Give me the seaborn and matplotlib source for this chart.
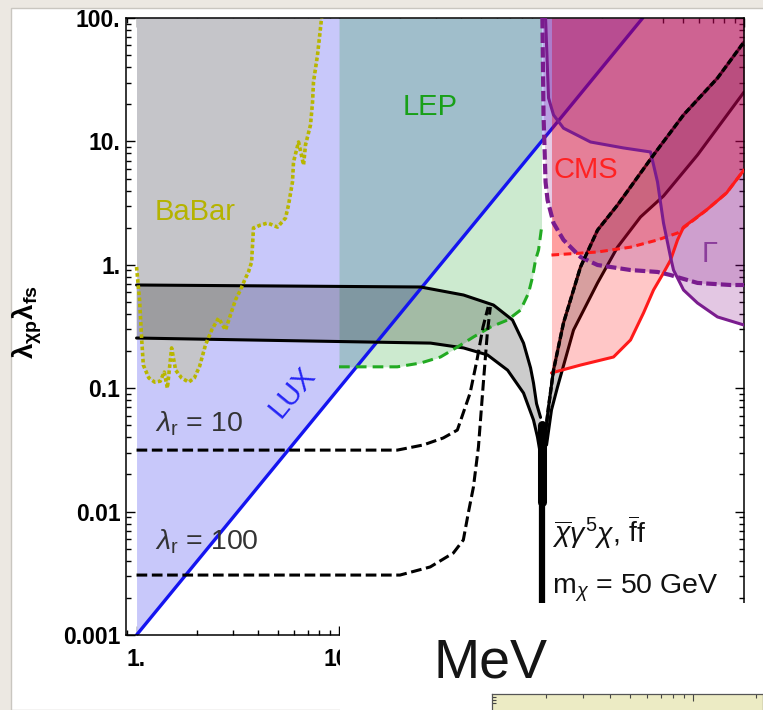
import numpy as np
import matplotlib
matplotlib.use("Agg")
import matplotlib.pyplot as plt
from matplotlib.patches import Rectangle
from matplotlib.ticker import LogLocator, NullFormatter
import seaborn as sns

# === ESTILO ===
sns.set_theme(style="ticks")
plt.rcParams['font.family'] = ['Liberation Sans', 'DejaVu Sans']
plt.rcParams['mathtext.fontset'] = 'custom'
plt.rcParams['mathtext.rm'] = 'Liberation Sans'
plt.rcParams['mathtext.it'] = 'Liberation Sans:italic'
plt.rcParams['mathtext.bf'] = 'Liberation Sans:bold'

# === DATOS (m_r en GeV, lambda_chi_p * lambda_fs) ===
lux_x = [1, 100, 316]
lux_y = [0.001, 10, 100]

babar_x = [1.0, 1.035, 1.06, 1.08, 1.15, 1.23, 1.31, 1.37, 1.42, 1.49, 1.56, 1.67,
           1.81, 1.93, 2.05, 2.19, 2.35, 2.54, 2.75, 2.91, 3.08, 3.26, 3.42, 3.57,
           3.70, 3.74, 3.78, 4.10, 4.44, 4.97, 5.44, 5.63, 5.89, 5.96, 6.31, 6.68,
           6.83, 7.23, 7.40, 7.48, 7.83, 8.10, 8.20]
babar_y = [0.96, 0.52, 0.25, 0.154, 0.121, 0.112, 0.114, 0.135, 0.100, 0.212, 0.140,
           0.121, 0.112, 0.121, 0.151, 0.224, 0.296, 0.370, 0.296, 0.392, 0.519, 0.625,
           0.753, 0.875, 1.05, 1.45, 1.99, 2.10, 2.18, 2.02, 2.39, 3.05, 4.69, 6.81,
           9.89, 6.44, 9.35, 13.6, 20.8, 30.3, 50.1, 83.0, 100]

lep_x = [10, 19.4, 25.3, 31.7, 38.5, 46.1, 56.0, 68.0, 78.8, 86.3, 90.3, 93.4, 96.7, 100]
lep_y = [0.149, 0.149, 0.160, 0.179, 0.216, 0.260, 0.313, 0.357, 0.430, 0.591, 0.796,
         1.09, 1.32, 1.99]

hi_left_x = [1, 25.3, 41.2, 57.9, 71.9, 81.5, 88.3, 91.3, 94.5, 98.9]
hi_left_y = [0.686, 0.661, 0.569, 0.472, 0.357, 0.232, 0.146, 0.110, 0.075, 0.058]
lo_left_x = [1, 28.3, 41.2, 54.1, 68.0, 81.5, 91.3, 95.5, 98.9]
lo_left_y = [0.255, 0.232, 0.212, 0.186, 0.140, 0.0914, 0.0552, 0.0402, 0.0288]
hi_right_x = [103.5, 108.3, 114.6, 128.4, 155.8, 189.1, 237.3, 357.4, 502.8, 739.8, 1000]
hi_right_y = [0.038, 0.0704, 0.140, 0.338, 0.96, 1.91, 3.05, 7.76, 16.4, 32.6, 63.9]
lo_right_x = [105.9, 112.0, 119.9, 143.9, 189.1, 237.3, 308.2, 400.4, 589.3, 1000]
lo_right_y = [0.0347, 0.0666, 0.102, 0.296, 0.713, 1.39, 2.44, 3.61, 7.76, 25.1]

spike_x = [100, 100]
spike_y = [0.001, 0.045]
spike_head_y = [0.012, 0.05]

lam10_x = [1, 19.4, 26.1, 32.7, 38.4, 44.4, 48.0, 51.4, 54.5]
lam10_y = [0.0315, 0.0315, 0.0347, 0.0395, 0.0458, 0.0914, 0.169, 0.313, 0.455]
lam100_x = [1, 20.0, 28.2, 36.7, 41.1, 43.5, 46.1, 48.8, 51.6, 54.0, 55.9]
lam100_y = [0.00306, 0.00306, 0.00356, 0.00462, 0.00589, 0.00975, 0.0158, 0.0333,
            0.110, 0.280, 0.455]

cms_x = [112.0, 155.8, 226.8, 275.2, 318.9, 357.4, 400.4, 433.6, 469.6, 502.8, 652.9,
         819.5, 1000]
cms_y = [0.133, 0.154, 0.179, 0.246, 0.407, 0.625, 0.859, 1.09, 1.59, 2.02, 2.78, 3.82, 5.87]
cms_exp_x = [112.0, 189.1, 275.2, 374.0, 469.6, 502.8, 652.9, 819.5, 1000]
cms_exp_y = [1.20, 1.27, 1.39, 1.59, 1.81, 1.99, 2.78, 3.82, 5.87]

gam_s_x = [104.7, 108.3, 114.6, 128.4, 174.6, 254.1, 345.4, 374.0, 400.4, 433.6, 448.6,
           502.8, 589.3, 739.8, 1000]
gam_s_y = [100, 22.5, 16.4, 12.8, 9.89, 8.85, 8.21, 4.69, 2.18, 1.156, 0.907, 0.625,
           0.490, 0.378, 0.325]
gam_d_x = [101, 102.3, 104.7, 107.1, 114.6, 128.4, 155.8, 189.1, 275.2, 374.0, 433.6,
           485.9, 589.3, 857.8, 1000]
gam_d_y = [100, 16.4, 4.69, 3.35, 2.18, 1.59, 1.156, 0.996, 0.907, 0.875, 0.826, 0.781,
           0.713, 0.686, 0.686]

# solo se ven "1." y "10." (el resto queda tapado por el recuadro blanco)
xtick_vals = [1, 10, 100, 1000]
xtick_labels = ['1.', '10.', '', '']
ytick_vals = [0.001, 0.01, 0.1, 1, 10, 100]
ytick_labels = ['0.001', '0.01', '0.1', '1.', '10.', '100.']

# === FIGURA ===
fig = plt.figure(figsize=(7.63, 7.10), dpi=100, facecolor='#ece8e2')
fig.add_artist(Rectangle((11 / 763, 0), 1.0, 702 / 710, transform=fig.transFigure,
                         facecolor='white', edgecolor='#c9c6c0', lw=1, zorder=-5))

ax = fig.add_axes([126 / 763, 75 / 710, 618 / 763, 617 / 710])
ax.set_facecolor('none')
ax.set_xscale('log')
ax.set_yscale('log')


def line(x, y, **kw):
    sns.lineplot(x=x, y=y, ax=ax, sort=False, estimator=None, **kw)


# capas de fondo
ax.fill_between(lux_x, lux_y, 100, color='#c8c8fa', lw=0, zorder=1)
ax.fill_between(babar_x, babar_y, 100, color='#c5c5c9', lw=0, zorder=1.1)
ax.fill_between(lep_x, lep_y, 100, color=(0, 0.6, 0.06), alpha=0.2, lw=0, zorder=1.2)
ax.fill(hi_left_x + lo_left_x[::-1], hi_left_y + lo_left_y[::-1],
        color='black', alpha=0.2, lw=0, zorder=1.3)
ax.fill(hi_right_x + lo_right_x[::-1], hi_right_y + lo_right_y[::-1],
        color='black', alpha=0.2, lw=0, zorder=1.3)

line(lux_x, lux_y, color='#1414f0', lw=2.4, zorder=1.5)
for xs, ys in [(hi_left_x, hi_left_y), (lo_left_x, lo_left_y),
               (hi_right_x, hi_right_y), (lo_right_x, lo_right_y)]:
    line(xs, ys, color='black', lw=2.2, zorder=1.5)

# capas CMS y anchura (transparentes)
ax.fill_between(cms_x, cms_y, 100, color='red', alpha=0.22, lw=0, zorder=2)
ax.fill_between(cms_exp_x, cms_exp_y, 100, color='red', alpha=0.2, lw=0, zorder=2)
ax.fill_between(gam_d_x, gam_d_y, 100, color=(0.5, 0, 0.5), alpha=0.2, lw=0, zorder=2)
ax.fill_between(gam_s_x, gam_s_y, 100, color=(0.5, 0, 0.5), alpha=0.22, lw=0, zorder=2)

# curvas de contorno
line(babar_x, babar_y, color='#b8b600', lw=2.6, linestyle=(0, (1, 0.7)), zorder=3)
line(lep_x, lep_y, color='#22aa22', lw=2.2, linestyle=(0, (3.5, 2)), zorder=3)
line(cms_x, cms_y, color='#ff1a1a', lw=2.2, zorder=3)
line(cms_exp_x, cms_exp_y, color='#ff1a1a', lw=2.2, linestyle=(0, (2.5, 1.5)), zorder=3)
line(gam_s_x, gam_s_y, color='#7a1c8e', lw=2.2, zorder=3)
line(gam_d_x, gam_d_y, color='#7a1c8e', lw=3, linestyle=(0, (2.5, 1)), zorder=3)
line(lam10_x, lam10_y, color='black', lw=2.2, linestyle=(0, (3.5, 1.5)), zorder=3)
line(lam100_x, lam100_y, color='black', lw=2.2, linestyle=(0, (3.5, 1.5)), zorder=3)
line(hi_right_x, hi_right_y, color='black', lw=2.4, linestyle=(0, (2, 0.8)), zorder=3)
line(spike_x, spike_y, color='black', lw=4.5, zorder=3)
line(spike_x, spike_head_y, color='black', lw=6.5, zorder=3)

# textos
ax.text(1.234, 2.31, 'BaBar', color='#b5b300', fontsize=21, zorder=4)
ax.text(20.5, 16.4, 'LEP', color='#18a018', fontsize=21, zorder=4)
ax.text(114, 5.05, 'CMS', color='#ff2222', fontsize=21, zorder=4)
ax.text(620, 1.05, 'Γ', color='#8b3d9b', fontsize=21, zorder=4)
ax.text(5.86, 0.093, 'LUX', color='#2525f5', fontsize=21, rotation=50.6,
        rotation_mode='anchor', ha='center', va='center', zorder=4)
ax.text(1.234, 0.0442, r'$\lambda_{\rm r}$ = 10', color='#333333', fontsize=20.5, zorder=4)
ax.text(1.234, 0.00489, r'$\lambda_{\rm r}$ = 100', color='#333333', fontsize=20.5, zorder=4)
ax.text(112.7, 0.00557, r'$\overline{\chi}\gamma^5\chi$, $\overline{\rm f}$f',
        color='#111111', fontsize=20.5, zorder=4)
ax.text(112.7, 0.00215, r'm$_\chi$ = 50 GeV', color='#111111', fontsize=20.5, zorder=4)

# ejes
ax.set_xlim(0.887, 1000)
ax.set_ylim(0.001, 100)
ax.set_xticks(xtick_vals)
ax.set_xticklabels(xtick_labels)
ax.set_yticks(ytick_vals)
ax.set_yticklabels(ytick_labels)
ax.xaxis.set_minor_locator(LogLocator(base=10, subs=np.arange(2, 10), numticks=20))
ax.yaxis.set_minor_locator(LogLocator(base=10, subs=np.arange(2, 10), numticks=20))
ax.xaxis.set_minor_formatter(NullFormatter())
ax.yaxis.set_minor_formatter(NullFormatter())
ax.tick_params(which='both', direction='in', top=True, right=True, bottom=True,
               left=True, colors='black', width=1)
ax.tick_params(which='major', length=6.5)
ax.tick_params(which='minor', length=3.5)
ax.tick_params(axis='y', which='major', pad=4, labelsize=16.5)
ax.tick_params(axis='x', which='major', pad=9, labelsize=16.5)
for lab in ax.get_xticklabels() + ax.get_yticklabels():
    lab.set_fontweight('bold')
for sp in ax.spines.values():
    sp.set_color('black')
    sp.set_linewidth(1.1)
ax.set_xlabel('')
ax.set_ylabel('')

fig.text(27 / 763, 1 - 322 / 710, r'$\mathbf{\lambda_{\chi p}\lambda_{fs}}$', rotation=90,
         ha='center', va='center', fontsize=20, color='black')

# recuadro blanco superpuesto y texto de la diapositiva
fig.add_artist(Rectangle((340 / 763, 0), 1.0, 107 / 710, transform=fig.transFigure,
                         facecolor='white', edgecolor='none', zorder=10))
fig.text(433 / 763, 33 / 710, 'MeV', fontsize=40, color='#151515',
         ha='left', va='baseline', zorder=11)

bx = fig.add_axes([492 / 763, -0.05, 271 / 763, 16 / 710 + 0.05])
bx.set_zorder(12)
bx.set_facecolor('#ecebc4')
bx.set_xscale('log')
bx.set_xlim(1.1, 21.5)
bx.set_ylim(0, 1)
bx.xaxis.set_minor_locator(LogLocator(base=10, subs=np.arange(2, 10), numticks=20))
bx.set_xticks([10])
bx.set_yticks([0.82, 0.88, 0.94])
bx.tick_params(which='both', direction='in', top=True, bottom=False, left=True,
               labeltop=False, labelbottom=False, labelleft=False, colors='#444444',
               width=0.8)
bx.tick_params(which='major', length=5)
bx.tick_params(which='minor', length=3)
bx.tick_params(axis='y', length=3)
for sp in bx.spines.values():
    sp.set_color('#555555')
    sp.set_linewidth(0.9)

fig.savefig('out.png', dpi=100, facecolor=fig.get_facecolor())
